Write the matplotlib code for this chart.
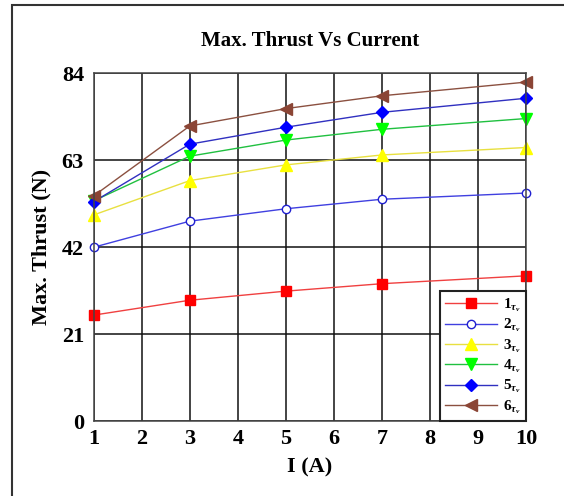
# Max. Thrust Vs Current
import numpy as np
import matplotlib.pyplot as plt
from matplotlib.patches import Rectangle

# 数据
current = [1, 3, 5, 7, 10]
thrust_1 = [25.6, 29.2, 31.4, 33.2, 35.1]
thrust_2 = [42.0, 48.3, 51.3, 53.6, 55.1]
thrust_3 = [49.8, 58.1, 61.9, 64.3, 66.1]
thrust_4 = [53.2, 64.0, 67.9, 70.5, 73.1]
thrust_5 = [53.0, 66.9, 71.0, 74.6, 78.0]
thrust_6 = [54.4, 71.3, 75.5, 78.6, 81.9]
labels = [r'1$_{\tau_v}$', r'2$_{\tau_v}$', r'3$_{\tau_v}$',
          r'4$_{\tau_v}$', r'5$_{\tau_v}$', r'6$_{\tau_v}$']
x_ticks = list(range(1, 11))
y_ticks = [0, 21, 42, 63, 84]

plt.rcParams['font.family'] = 'Liberation Serif'
plt.rcParams['font.weight'] = 'bold'
plt.rcParams['mathtext.fontset'] = 'custom'
plt.rcParams['mathtext.rm'] = 'Liberation Serif'
plt.rcParams['mathtext.it'] = 'Liberation Serif:italic'

fig = plt.figure(figsize=(5.64, 4.96), dpi=100)
ax = fig.add_axes([0.166, 0.151, 0.767, 0.701])

# 外框
fig.patches.append(Rectangle((12 / 564, -0.05), 1.2, 1 - 5 / 496 + 0.05,
                             transform=fig.transFigure, fill=False,
                             edgecolor='#333333', linewidth=1.5))

styles = [
    dict(color='#f04040', marker='s', mfc='#ff0000', mec='#ff0000', ms=7),
    dict(color='#4040e0', marker='o', mfc='white', mec='#2020d0', ms=6),
    dict(color='#e8e040', marker='^', mfc='#ffff00', mec='#ffff00', ms=8),
    dict(color='#20c040', marker='v', mfc='#00ff00', mec='#00ff00', ms=8),
    dict(color='#3030c0', marker='D', mfc='#0000ff', mec='#0000ff', ms=6.5),
    dict(color='#8b5040', marker='<', mfc='#8b4535', mec='#8b4535', ms=8),
]
series = [thrust_1, thrust_2, thrust_3, thrust_4, thrust_5, thrust_6]
for ys, lab, st in zip(series, labels, styles):
    ax.plot(current, ys, label=lab, linewidth=1.0, clip_on=False, **st)

ax.set_xlim(1, 10)
ax.set_ylim(0, 84)
ax.set_xticks(x_ticks)
ax.set_yticks(y_ticks)
ax.tick_params(length=0, labelsize=16)
ax.tick_params(axis='x', pad=6)
ax.tick_params(axis='y', pad=7)
ax.grid(True, color='#111111', linewidth=1.1)
for s in ax.spines.values():
    s.set_color('#444444')
    s.set_linewidth(1.1)

ax.set_title('Max. Thrust Vs Current', fontsize=15, fontweight='bold', pad=20)
ax.set_xlabel('I (A)', fontsize=16, fontweight='bold', labelpad=6)
ax.set_ylabel('Max. Thrust (N)', fontsize=16, fontweight='bold', labelpad=7)

leg = ax.legend(loc='lower right', fontsize=11, handlelength=3.4,
                borderaxespad=0, fancybox=False, framealpha=1,
                labelspacing=0.18, handletextpad=0.4, borderpad=0.35)
leg.get_frame().set_edgecolor('#222222')
leg.get_frame().set_linewidth(1.5)

plt.savefig('out.png', dpi=100)
